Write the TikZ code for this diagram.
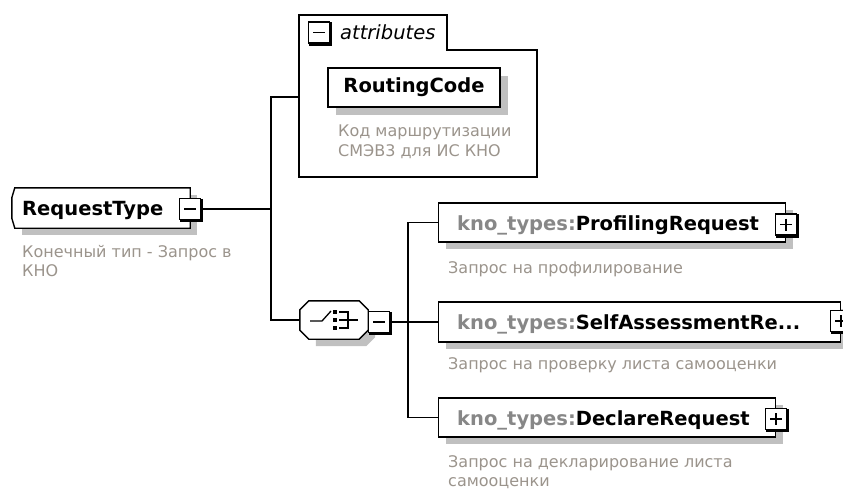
\documentclass[tikz,border=0pt]{standalone}
\usepackage{fontspec}
\setmainfont{DejaVu Sans}
\usetikzlibrary{calc,shadows}
\definecolor{desccol}{RGB}{155,148,140}
\definecolor{typegray}{RGB}{135,135,135}
\definecolor{shadowgray}{RGB}{192,192,192}
\newcommand\lblfont{\fontsize{19.5}{22}\selectfont\bfseries}
\newcommand\attrfont{\fontsize{19.5}{22}\selectfont\itshape}
\newcommand\descfont{\fontsize{16}{19.5}\selectfont}
\newcommand\xmthick[1]{\draw[line width=2.4pt] ($(#1.north east)+(1,1)$) -- ($(#1.south east)+(1,1)$) -- ($(#1.south west)+(1,1)$);}
\newcommand\xmminus[1]{\xmthick{#1}\draw[line width=1.4pt] ($(#1.center)+(-6,0)$) -- ($(#1.center)+(6,0)$);}
\newcommand\xmplus[1]{\xmminus{#1}\draw[line width=1.4pt] ($(#1.center)+(0,-6)$) -- ($(#1.center)+(0,6)$);}
\tikzset{
  conn/.style={line width=1.6pt, draw=black},
  boxline/.style={line width=1.4pt},
  lbl/.style={font=\lblfont, inner sep=0pt},
  desc/.style={font=\descfont, text=desccol, align=left, anchor=north west, inner sep=0pt},
  expander/.style={draw, fill=white, line width=1.3pt, minimum width=21pt, minimum height=21pt, inner sep=0pt},
  childbox/.style={draw, boxline, fill=white, minimum height=39pt, inner sep=0pt, anchor=west,
    general shadow={fill=shadowgray, shadow xshift=7pt, shadow yshift=-7pt}},
  frame/.style={draw=none, inner sep=0pt}
}
\begin{document}
\begin{tikzpicture}[x=1pt,y=-1pt]
\useasboundingbox (0,0) rectangle (843,490);
\fill[white] (0,0) rectangle (843,490);

% ---------- RequestType ----------
\node[frame, minimum width=178, minimum height=40] (rt) at (101,208) {};
\fill[shadowgray] ($(rt.north west)+(10,7)$) -- ($(rt.north east)+(7,7)$) -- ($(rt.south east)+(7,7)$) -- ($(rt.south west)+(10,7)$) -- cycle;
\draw[boxline, fill=white] ($(rt.north west)+(3,0)$) -- (rt.north east) -- (rt.south east) -- ($(rt.south west)+(3,0)$) -- ($(rt.south west)+(0,-10)$) -- ($(rt.north west)+(0,10)$) -- cycle;
\node[lbl, anchor=base west] (rtl) at (22,215) {RequestType};
\node[expander] (rtm) at (190,209) {};
\xmminus{rtm}
\node[desc] (rtd) at (22,245) {Конечный тип - Запрос в\\КНО};

% ---------- attributes group ----------
\coordinate (aTL) at (299,15);
\coordinate (aTabR) at (447,15);
\coordinate (aTabB) at (447,50);
\coordinate (aR) at (537,50);
\coordinate (aBR) at (537,177);
\coordinate (aBL) at (299,177);
\coordinate (aL) at (299,97);
\draw[boxline] (aTL) -- (aTabR) -- (aTabB) -- (aR) -- (aBR) -- (aBL) -- cycle;
\node[expander] (attm) at (319,32.5) {};
\xmminus{attm}
\node[font=\attrfont, inner sep=0pt, anchor=base west] (attl) at (340,39) {attributes};
\node[draw, boxline, fill=white, minimum width=172, minimum height=39, inner sep=0pt, font=\lblfont,
  general shadow={fill=shadowgray, shadow xshift=8pt, shadow yshift=-8pt}] (rc) at (414,87.5) {RoutingCode};
\node[desc] (rcd) at (338,125) {Код маршрутизации\\СМЭВ3 для ИС КНО};

% ---------- sequence ----------
\node[frame, minimum width=68, minimum height=38] (seq) at (334,320) {};
\fill[shadowgray] ($(seq.north west)+(16,7)$) -- ($(seq.north east)+(-2,7)$) -- ($(seq.north east)+(7,16)$) -- ($(seq.south east)+(7,-2)$) -- ($(seq.south east)+(-2,7)$) -- ($(seq.south west)+(16,7)$) -- cycle;
\draw[boxline, fill=white] ($(seq.north west)+(9,0)$) -- ($(seq.north east)+(-9,0)$) -- ($(seq.north east)+(0,9)$) -- ($(seq.south east)+(0,-9)$) -- ($(seq.south east)+(-9,0)$) -- ($(seq.south west)+(9,0)$) -- ($(seq.south west)+(0,-9)$) -- ($(seq.north west)+(0,9)$) -- cycle;
\begin{scope}[shift={(seq.center)}]
  \draw[line width=1.3pt] (-24,1) -- (-12,1) -- (-3,-9);
  \fill (-1,-10) rectangle (3,-6);
  \fill (-1,-2) rectangle (3,2);
  \fill (-1,6) rectangle (3,10);
  \draw[line width=1.3pt] (5,-8) -- (14,-8) -- (14,8) -- (5,8);
  \draw[line width=1.3pt] (5,0) -- (24,0);
\end{scope}
\node[expander] (seqm) at (379,322) {};
\xmminus{seqm}

% ---------- children ----------
\node[childbox, minimum width=347] (c1) at (438,222.5) {};
\node[childbox, minimum width=402, minimum height=40] (c2) at (438,322) {};
\node[childbox, minimum width=337] (c3) at (438,417.5) {};
\node[lbl, anchor=base west] (c1l) at (457,230) {\textcolor{typegray}{kno\_types:}ProfilingRequest};
\node[lbl, anchor=base west] (c2l) at (457,329) {\textcolor{typegray}{kno\_types:}SelfAssessmentRe...};
\node[lbl, anchor=base west] (c3l) at (457,425) {\textcolor{typegray}{kno\_types:}DeclareRequest};
\node[expander] (c1p) at (786,224.5) {};
\xmplus{c1p}
\node[expander] (c2p) at (841,321) {};
\xmplus{c2p}
\node[expander] (c3p) at (776,419) {};
\xmplus{c3p}
\node[desc] (c1d) at (448,261) {Запрос на профилирование};
\node[desc] (c2d) at (448,357) {Запрос на проверку листа самооценки};
\node[desc] (c3d) at (448,455) {Запрос на декларирование листа\\самооценки};

% ---------- connectors ----------
\coordinate (j1) at (271,209);
\coordinate (j2) at (408,322);
\draw[conn] (rtm.east) -- (j1);
\draw[conn] (aL) -- (aL -| j1) -- (seq.west -| j1) -- (seq.west);
\draw[conn] (seqm.east) -- (j2);
\draw[conn] (c1.west) -- (c1.west -| j2) -- (c3.west -| j2) -- (c3.west);
\draw[conn] (j2) -- (c2.west);
\end{tikzpicture}
\end{document}
